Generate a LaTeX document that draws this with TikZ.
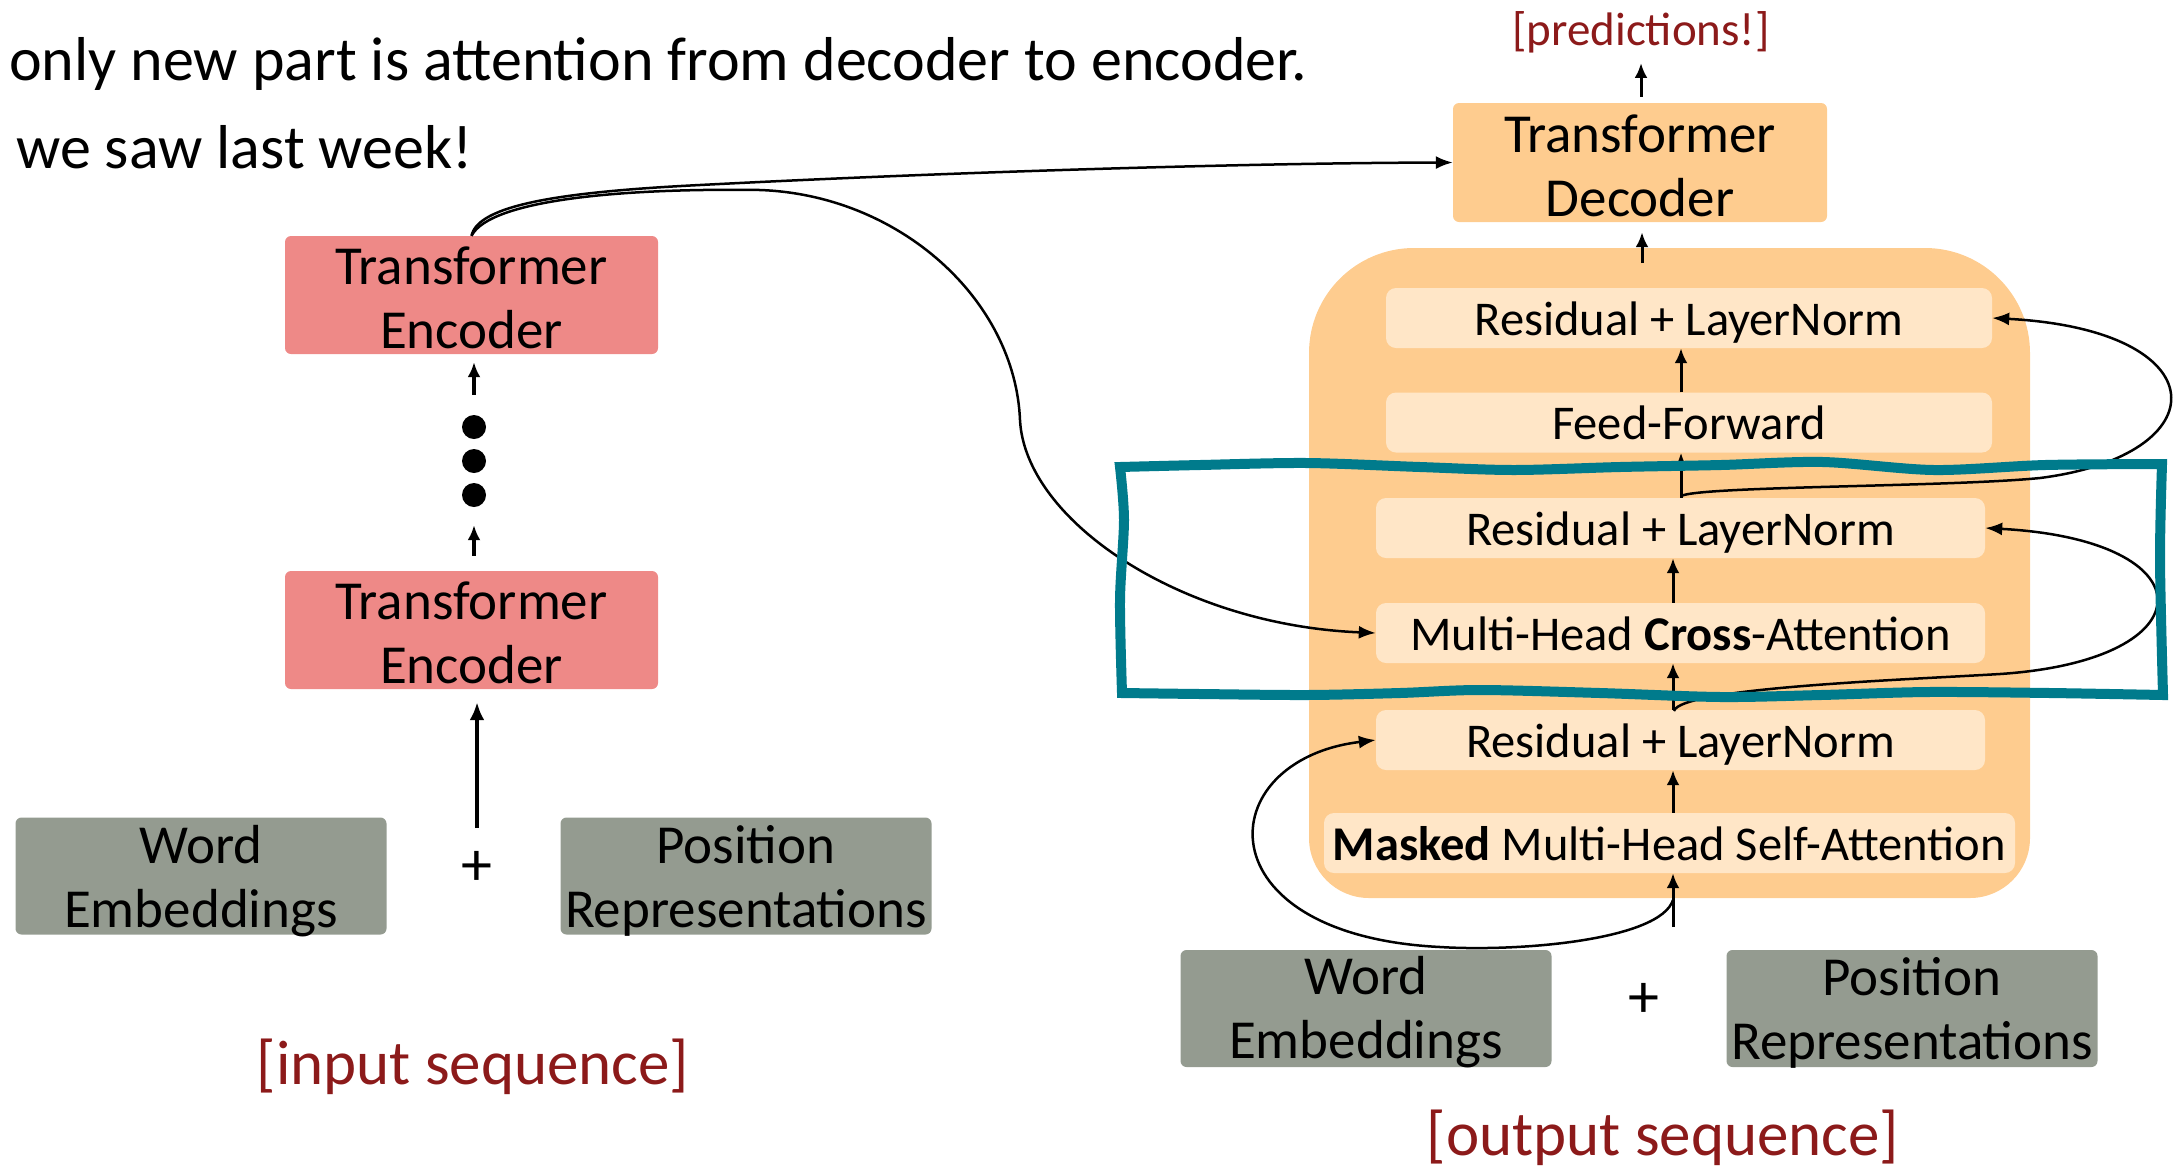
\documentclass[tikz,border=0pt]{standalone}
\usepackage{fontspec}
\setmainfont{Carlito}
\usetikzlibrary{arrows.meta}
\definecolor{encpink}{HTML}{EE8987}
\definecolor{decorange}{HTML}{FECC8F}
\definecolor{sublight}{HTML}{FFE6C7}
\definecolor{embgray}{HTML}{949B90}
\definecolor{tealc}{HTML}{007B8C}
\definecolor{darkred}{HTML}{8C1A1A}
\begin{document}
\begin{tikzpicture}[x=1pt,y=-1pt,
  bigbox/.style={rounded corners=6pt, inner sep=0pt},
  boxtext/.style={inner sep=0pt, align=center, font=\fontsize{55}{64}\selectfont},
  encbox/.style={bigbox, fill=encpink, minimum width=373pt, minimum height=118pt},
  embbox/.style={bigbox, fill=embgray, minimum width=371pt, minimum height=117pt},
  decbox/.style={bigbox, fill=decorange, minimum width=374pt, minimum height=119pt},
  subbox/.style={fill=sublight, rounded corners=10pt, inner sep=0pt, minimum height=60pt,
    text height=36pt, text depth=2pt, font=\fontsize{48.5}{56}\selectfont},
  lbl/.style={text=darkred, inner sep=0pt, font=\fontsize{63}{72}\selectfont},
  title/.style={anchor=base west, inner sep=0pt, font=\fontsize{62}{72}\selectfont},
  dotnode/.style={circle, fill=black, inner sep=0pt, minimum size=24pt},
  plusnode/.style={inner sep=0pt, font=\fontsize{62}{70}\selectfont},
  flow/.style={line width=3pt, -{Latex[length=15pt,width=13pt]}},
  encflow/.style={line width=4pt, -{Latex[length=15pt,width=13pt]}},
  bigflow/.style={line width=4.5pt, -{Latex[length=18pt,width=15pt]}},
  curve/.style={line width=2.5pt, -{Latex[length=17pt,width=13pt]}},
  tealbox/.style={draw=tealc, line width=10pt, line join=miter},
]
\useasboundingbox (0,0) rectangle (2182,1171);

% titles
\node[title] (t1) at (9,80) {only new part is attention from decoder to encoder.};
\node[title] (t2) at (16,168) {we saw last week!};

% encoder side
\node[encbox] (enc2) at (471.5,295) {};
\node[boxtext] (enc2t) at ([yshift=-3pt]enc2.center) {Transformer\\Encoder};
\node[encbox] (enc1) at (471.5,630) {};
\node[boxtext] (enc1t) at ([yshift=-3pt]enc1.center) {Transformer\\Encoder};
\node[dotnode] (d1) at (474,427) {};
\node[dotnode] (d2) at (474,461) {};
\node[dotnode] (d3) at (474,495) {};
\draw[encflow, shorten <=20pt, shorten >=8pt] (d1.north) -- (d1.north |- enc2.south);
\draw[encflow, shorten <=15pt, shorten >=18pt] (enc1.north -| d3.south) -- (d3.south);
\node[embbox] (wemb1) at (201,876) {};
\node[boxtext] (wemb1t) at ([yshift=-5pt]wemb1.center) {Word\\Embeddings};
\node[embbox] (pemb1) at (746,876) {};
\node[boxtext] (pemb1t) at ([yshift=-5pt]pemb1.center) {Position\\Representations};
\node[plusnode] (plus1) at (477,868) {+};
\coordinate (inbase) at (477,828);
\draw[bigflow, shorten >=13pt] (inbase) -- (inbase |- enc1.south);
\node[lbl] (inseq) at (473,1067) {[input sequence]};

% decoder side
\node[decbox] (dec) at (1640,162.5) {};
\node[boxtext] (dect) at ([yshift=-3pt]dec.center) {Transformer\\Decoder};
\node[lbl, font=\fontsize{47}{54}\selectfont] (pred) at (1641,32) {[predictions!]};
\draw[flow, shorten <=6pt, shorten >=10pt] (dec.north -| pred.south) -- (pred.south);

\fill[decorange] (1670,248) [rounded corners=105pt] -- (1309,248) -- (1309,600)
  [rounded corners=60pt] -- (1309,898) -- (2030,898) -- (2030,600)
  [rounded corners=105pt] -- (2030,248) -- cycle;
\coordinate (stacktop) at (1642,263);
\draw[flow, shorten >=10pt] (stacktop) -- (stacktop |- dec.south);

\node[subbox, minimum width=606pt] (rln3) at (1689,318) {Residual + LayerNorm};
\node[subbox, minimum width=606pt] (ff) at (1689,422.5) {Feed-Forward};
\node[subbox, minimum width=609pt] (rln2) at (1680.5,528) {Residual + LayerNorm};
\node[subbox, minimum width=609pt] (cross) at (1680.5,633) {Multi-Head \textbf{Cross}-Attention};
\node[subbox, minimum width=609pt] (rln1) at (1680.5,740) {Residual + LayerNorm};
\node[subbox, minimum width=691pt] (masked) at (1669.5,843) {\textbf{Masked} Multi-Head Self-Attention};

\coordinate (ax1) at (1681,0);
\coordinate (ax2) at (1673,0);
\draw[flow] (ax1 |- ff.north) -- (ax1 |- rln3.south);
\draw[flow] (ax1 |- rln2.north) -- (ax1 |- ff.south);
\draw[flow] (ax2 |- cross.north) -- (ax2 |- rln2.south);
\draw[flow] (ax2 |- rln1.north) -- (ax2 |- cross.south);
\draw[flow] (ax2 |- masked.north) -- (ax2 |- rln1.south);
\coordinate (decin) at (1673,927);
\draw[flow] (decin) -- (decin |- masked.south);

% residual curves
\coordinate (resA) at (1681,496);
\coordinate (resB) at (1674,711);
\coordinate (resC) at (1673,900);
\draw[curve] (resA) .. controls (1700,486) and (1950,487) .. (2040,478)
  .. controls (2220,455) and (2220,330) .. (rln3.east);
\draw[curve] (resB) .. controls (1680,688) and (1900,680) .. (2000,674)
  .. controls (2210,660) and (2210,540) .. (rln2.east);
\draw[curve] (resC) .. controls (1660,940) and (1520,952) .. (1440,947)
  .. controls (1200,935) and (1210,760) .. (rln1.west);

% encoder to decoder
\draw[curve] (enc2.north) .. controls (478,205) and (560,192) .. (700,185)
  .. controls (950,172) and (1250,163) .. (dec.west);
\draw[curve] (enc2.north) .. controls (490,200) and (620,188) .. (760,190)
  .. controls (900,195) and (1015,300) .. (1020,420)
  .. controls (1025,520) and (1180,625) .. (cross.west);

% embeddings
\node[embbox] (wemb2) at (1366,1008.5) {};
\node[boxtext] (wemb2t) at ([yshift=-4pt]wemb2.center) {Word\\Embeddings};
\node[embbox] (pemb2) at (1912,1008.5) {};
\node[boxtext] (pemb2t) at ([yshift=-4pt]pemb2.center) {Position\\Representations};
\node[plusnode] (plus2) at (1644,1000) {+};
\node[lbl, font=\fontsize{63}{72}\selectfont] (outseq) at (1663,1138) {[output sequence]};

% highlight box
\draw[tealbox] plot[smooth] coordinates {(1120,467) (1200,465) (1307,463) (1420,467) (1514,470) (1620,467) (1721,465) (1823,462) (1934,470) (2045,465) (2162,464)}
  -- plot[smooth] coordinates {(2162,464) (2160,560) (2163,695)}
  -- plot[smooth] coordinates {(2163,695) (2050,693) (1928,692) (1821,695) (1721,697) (1600,693) (1480,690) (1400,693) (1307,695) (1200,694) (1122,693)}
  -- plot[smooth] coordinates {(1122,693) (1120,600) (1124,520) (1120,467)} -- cycle;
\end{tikzpicture}
\end{document}
